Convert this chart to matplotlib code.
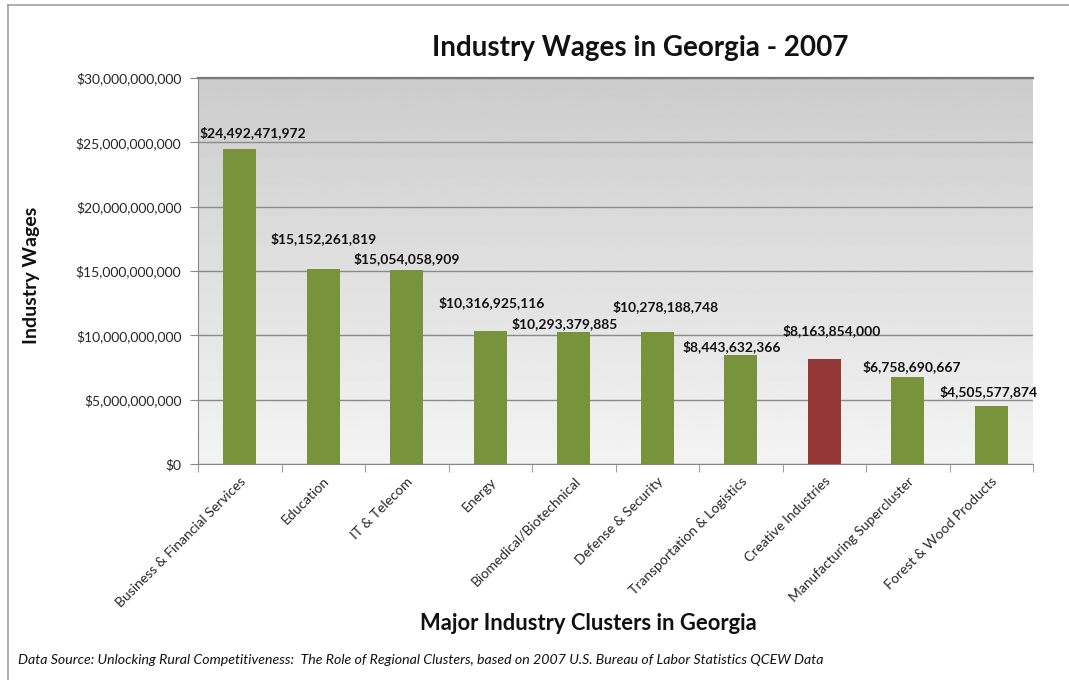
import numpy as np
import matplotlib
matplotlib.use("Agg")
import matplotlib.pyplot as plt
from matplotlib.lines import Line2D
from matplotlib.ticker import FuncFormatter, MultipleLocator

plt.rcParams['font.family'] = ['Lato', 'DejaVu Sans']

categories = ["Business & Financial Services", "Education", "IT & Telecom", "Energy",
              "Biomedical/Biotechnical", "Defense & Security", "Transportation & Logistics",
              "Creative Industries", "Manufacturing Supercluster", "Forest & Wood Products"]
wages = [24492471972, 15152261819, 15054058909, 10316925116, 10293379885,
         10278188748, 8443632366, 8163854000, 6758690667, 4505577874]
highlight = "Creative Industries"

# label placement offsets (pixels) relative to each bar's top centre
label_dx = [13, 0, 0, 1, -9, 8, -9, 7, 4, -3]
label_dy = [16, 30, 12, 29, 8, 25, 9, 28, 10, 14]

W, H = 1069, 680
fig = plt.figure(figsize=(W / 100, H / 100), dpi=100)
fig.patch.set_facecolor("white")

ax = fig.add_axes([198 / W, 1 - 464 / H, (1033 - 198) / W, (464 - 78) / H])

# vertical grey gradient background of the plot area
grad = np.linspace(0.80, 0.955, 256).reshape(-1, 1)
ax.imshow(grad, cmap="gray", vmin=0, vmax=1, aspect="auto",
          extent=[0, 1, 0, 1], transform=ax.transAxes, zorder=0, origin="upper")

x = np.arange(len(categories))
colors = ["#953735" if c == highlight else "#77933C" for c in categories]
ax.bar(x, wages, width=0.4, color=colors, zorder=3)

ax.set_xlim(-0.5, len(categories) - 0.5)
ax.set_ylim(0, 30e9)
ax.yaxis.set_major_locator(MultipleLocator(5e9))
ax.yaxis.set_major_formatter(FuncFormatter(lambda v, p: f"${v:,.0f}"))
ax.grid(axis="y", color="#8a8a8a", linewidth=1.0, zorder=1)
ax.set_axisbelow(True)

ax.spines["right"].set_visible(False)
ax.spines["top"].set_color("#7a7a7a")
ax.spines["top"].set_linewidth(1.6)
ax.spines["left"].set_color("#8a8a8a")
ax.spines["bottom"].set_color("#8a8a8a")

ax.tick_params(axis="y", length=6, color="#8a8a8a", labelsize=10, labelcolor="#262626", pad=6)
ax.set_xticks(x)
ax.set_xticklabels(categories, rotation=45, ha="right", rotation_mode="anchor",
                   fontsize=10, color="#262626")
ax.tick_params(axis="x", length=0, pad=8)
# category boundary ticks
ax.set_xticks(np.arange(-0.5, len(categories)), minor=True)
ax.tick_params(axis="x", which="minor", length=6, color="#8a8a8a")

for i, v in enumerate(wages):
    ax.annotate(f"${v:,.0f}", xy=(x[i], v), xytext=(label_dx[i] * 0.72, label_dy[i] * 0.72),
                textcoords="offset points", ha="center", va="center",
                fontsize=10, fontweight="bold", color="#111111", zorder=5)

fig.text(640 / W, 1 - 48 / H, "Industry Wages in Georgia - 2007", ha="center", va="center",
         fontsize=20, fontweight="bold", color="#111111")
fig.text(32 / W, 1 - 275 / H, "Industry Wages", rotation=90, ha="center", va="center",
         fontsize=14, fontweight="bold", color="#111111")
fig.text(588 / W, 1 - 623 / H, "Major Industry Clusters in Georgia", ha="center", va="center",
         fontsize=15.8, fontweight="bold", color="#111111")
fig.text(18 / W, 1 - 660 / H,
         "Data Source: Unlocking Rural Competitiveness:  The Role of Regional Clusters, based on 2007 U.S. Bureau of Labor Statistics QCEW Data",
         ha="left", va="center", fontsize=10.2, style="italic", color="#111111")

# outer chart frame
fig.add_artist(Line2D([8 / W, 8 / W], [0, 1 - 5 / H], color="#a0a0a0", linewidth=1.2))
fig.add_artist(Line2D([8 / W, 1], [1 - 5 / H, 1 - 5 / H], color="#a0a0a0", linewidth=1.2))

fig.savefig("out.png", dpi=100)
